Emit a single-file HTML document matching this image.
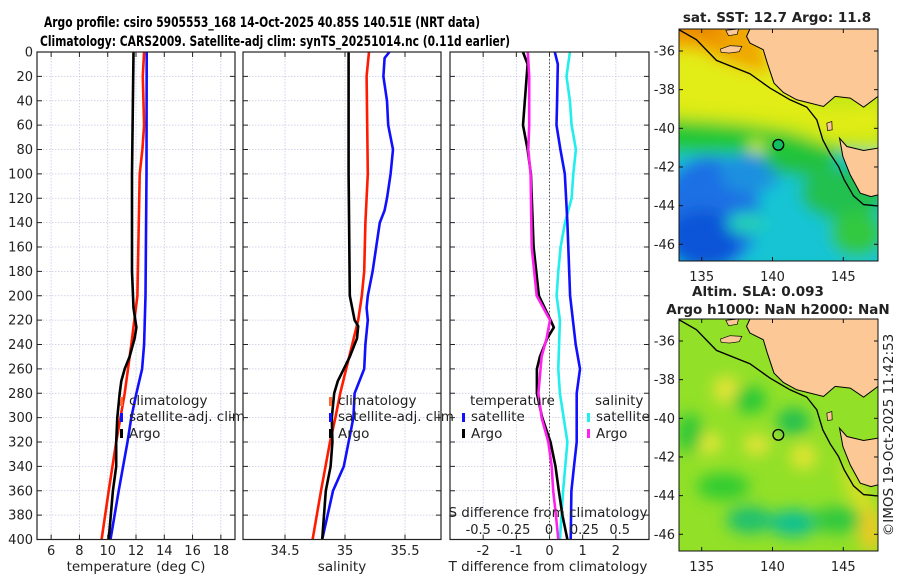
<!DOCTYPE html>
<html><head><meta charset="utf-8"><style>
body{margin:0;background:#fff;}
svg{display:block;font-family:"DejaVu Sans","Liberation Sans",sans-serif;}
</style></head><body>
<svg id="fig" width="900" height="580" viewBox="0 0 900 580" xmlns="http://www.w3.org/2000/svg">
<defs>
<filter id="blur1" x="-20%" y="-20%" width="140%" height="140%"><feGaussianBlur stdDeviation="22"/></filter>
<clipPath id="mapclip"><rect x="88" y="88" width="595" height="695"/></clipPath>
</defs>
<text x="44" y="27" font-size="14.5" font-weight="bold" textLength="436" lengthAdjust="spacingAndGlyphs">Argo profile: csiro 5905553_168 14-Oct-2025 40.85S 140.51E (NRT data)</text>
<text x="40" y="46" font-size="14.5" font-weight="bold" textLength="470" lengthAdjust="spacingAndGlyphs">Climatology: CARS2009. Satellite-adj clim: synTS_20251014.nc (0.11d earlier)</text>
<g id="panels"></g>
<g id="maps"></g>
</svg>
<script>
// ---- data ----
const depthTickLabels = [0,20,40,60,80,100,120,140,160,180,200,220,240,260,280,300,320,340,360,380,400];
const tempTicks = [6,8,10,12,14,16,18];
const salTicks = [34.5,35,35.5];
const tdiffTicks = [-2,-1,0,1,2];
const sdiffTicks = [-0.5,-0.25,0,0.25,0.5];
const sdiffTickLabels = ['-0.5','-0.25','0','0.25','0.5'];

const tClimDepth = [0,20,60,80,100,200,240,280,320,360,400];
const tClimVal   = [12.57,12.48,12.57,12.45,12.26,12.1,11.67,11.2,10.6,10.07,9.57];
const tSatDepth  = [0,100,200,240,260,280,300,320,360,400];
const tSatVal    = [12.76,12.74,12.67,12.57,12.43,12.03,11.67,11.4,10.78,10.2];
const tArgoDepth = [0,100,180,210,226,235,250,260,270,280,300,320,340,360,400];
const tArgoVal   = [11.82,11.72,11.72,11.82,12.03,11.9,11.55,11.2,10.96,10.85,10.68,10.6,10.6,10.37,10.07];

const sClimDepth = [0,20,100,140,180,200,220,240,260,280,300,320,360,400];
const sClimVal   = [35.2,35.18,35.19,35.17,35.16,35.14,35.11,35.06,35.01,34.96,34.92,34.875,34.8,34.73];
const sSatDepth  = [0,5,20,40,60,80,100,120,130,140,160,180,200,210,220,240,260,280,300,320,340,360,400];
const sSatVal    = [35.37,35.33,35.32,35.35,35.36,35.4,35.38,35.35,35.33,35.29,35.26,35.23,35.19,35.18,35.19,35.17,35.16,35.08,35.07,35.03,34.99,34.9,34.81];
const sArgoDepth = [0,100,200,220,225,235,250,260,270,280,300,320,340,360,400];
const sArgoVal   = [35.03,35.03,35.04,35.08,35.11,35.1,35.04,34.99,34.94,34.91,34.89,34.895,34.88,34.84,34.81];

const dtSatDepth = [0,10,40,60,80,100,140,200,240,260,280,320,340,360,400];
const dtSatVal   = [0.16,0.25,0.23,0.21,0.33,0.46,0.54,0.62,0.79,0.92,0.82,0.82,0.74,0.66,0.64];
const dtArgoDepth = [0,10,60,80,100,160,200,220,226,235,250,260,280,300,320,340,360,380,400];
const dtArgoVal   = [-0.8,-0.66,-0.8,-0.66,-0.56,-0.48,-0.32,0.03,0.13,-0.07,-0.29,-0.38,-0.38,-0.22,0.03,0.18,0.28,0.39,0.54];
const dsSatDepth = [0,20,40,60,80,100,120,140,160,180,200,220,260,280,320,360,400];
const dsSatVal   = [0.148,0.124,0.148,0.16,0.19,0.172,0.16,0.113,0.082,0.066,0.054,0.077,0.066,0.077,0.13,0.1,0.077];
const dsArgoDepth = [0,20,60,80,100,160,200,220,235,250,280,300,320,340,360,380,400];
const dsArgoVal   = [-0.15,-0.14,-0.14,-0.146,-0.13,-0.122,-0.087,0.007,-0.017,-0.052,-0.075,-0.052,-0.005,0.019,0.03,0.049,0.066];

// ---- helpers ----
const NS='http://www.w3.org/2000/svg';
function mk(tag,attrs,parent){const e=document.createElementNS(NS,tag);for(const k in attrs)e.setAttribute(k,attrs[k]);parent.appendChild(e);return e;}
const panels=document.getElementById('panels');
const Y0=52,Y1=539.5;
const yS=d=>Y0+(d/400)*(Y1-Y0);

function panel(name,x0,x1,dmin,dmax,showY){
  const g=mk('g',{},panels);
  
  
  const xs=v=>x0+(v-dmin)/(dmax-dmin)*(x1-x0);
  depthTickLabels.forEach(d=>{
    const y=yS(d);
    if(d>0&&d<400){const l=mk('line',{x1:x0,x2:x1,y1:y,y2:y,stroke:'#c4c8e4','stroke-width':0.8,'stroke-dasharray':'1.5,1.5'},g);
      }
    mk('line',{x1:x0,x2:x0+5,y1:y,y2:y,stroke:'#222','stroke-width':1},g);
    mk('line',{x1:x1-5,x2:x1,y1:y,y2:y,stroke:'#222','stroke-width':1},g);
    if(showY){const t=mk('text',{x:x0-4,y:y+4.5,'text-anchor':'end','font-size':13,fill:'#222'},g);t.textContent=d;
      }
  });
  return {g,xs};
}
function vgrid(p,ticks){ticks.forEach(v=>{const x=p.xs(v);
  const l=mk('line',{x1:x,x2:x,y1:Y0,y2:Y1,stroke:'#c4c8e4','stroke-width':0.8,'stroke-dasharray':'1.5,1.5'},p.g);
  
  mk('line',{x1:x,x2:x,y1:Y1,y2:Y1-5,stroke:'#222'},p.g);mk('line',{x1:x,x2:x,y1:Y0,y2:Y0+5,stroke:'#222'},p.g);});}
function xlabels(p,ticks,labels,y,name){ticks.forEach((v,i)=>{const t=mk('text',{x:p.xs(v),y:y,'text-anchor':'middle','font-size':13,fill:'#222'},p.g);t.textContent=labels?labels[i]:v;
  });}
function series(p,xs,depths,vals,color,name){
  const pts=depths.map((d,i)=>xs(vals[i]).toFixed(1)+','+yS(d).toFixed(1)).join(' ');
  const e=mk('polyline',{points:pts,fill:'none',stroke:color,'stroke-width':2.6,'stroke-linejoin':'round'},p.g);
  
}
function frame(p,x0,x1){const r=mk('rect',{x:x0,y:Y0,width:x1-x0,height:Y1-Y0,fill:'none',stroke:'#222','stroke-width':1.2},p.g);
  }
function text(g,x,y,s,str,name,anchor){const t=mk('text',{x:x,y:y,'font-size':s,fill:'#222','text-anchor':anchor||'start'},g);t.textContent=str;
  return t;}
function legMark(g,x,y,color,name){const r=mk('rect',{x:x,y:y,width:3,height:9,fill:color},g);}

// Panel 1 temperature
const p1=panel('temperature-panel',37,235,5,19,true);
vgrid(p1,tempTicks);
series(p1,p1.xs,tClimDepth,tClimVal,'#ff1a00','temperature-climatology-line');
series(p1,p1.xs,tSatDepth,tSatVal,'#1010ff','temperature-satellite-line');
series(p1,p1.xs,tArgoDepth,tArgoVal,'#000','temperature-argo-line');
frame(p1,37,235);
xlabels(p1,tempTicks,null,555,'temperature-tick-label');
text(p1.g,136,571,13.5,'temperature (deg C)','temperature-axis-title','middle');
legMark(p1.g,120,397,'#ff6a3a','legend-climatology-marker');text(p1.g,129,405,13.5,'climatology','legend-climatology');
legMark(p1.g,120,413,'#1010ff','legend-satellite-marker');text(p1.g,129,421,13.5,'satellite-adj. clim','legend-satellite');
legMark(p1.g,120,429,'#000','legend-argo-marker');text(p1.g,129,438,13.5,'Argo','legend-argo');

// Panel 2 salinity
const p2=panel('salinity-panel',243,441,34.15,35.8,false);
vgrid(p2,salTicks);
series(p2,p2.xs,sClimDepth,sClimVal,'#ff1a00','salinity-climatology-line');
series(p2,p2.xs,sSatDepth,sSatVal,'#1010ff','salinity-satellite-line');
series(p2,p2.xs,sArgoDepth,sArgoVal,'#000','salinity-argo-line');
frame(p2,243,441);
xlabels(p2,salTicks,null,555,'salinity-tick-label');
text(p2.g,342,571,13.5,'salinity','salinity-axis-title','middle');
legMark(p2.g,329,397,'#ff6a3a','legend-climatology-marker');text(p2.g,338,405,13.5,'climatology','legend-climatology');
legMark(p2.g,329,413,'#1010ff','legend-satellite-marker');text(p2.g,338,421,13.5,'satellite-adj. clim','legend-satellite');
legMark(p2.g,329,429,'#000','legend-argo-marker');text(p2.g,338,438,13.5,'Argo','legend-argo');

// Panel 3 differences
const p3=panel('difference-panel',450,649,-3,3,false);
vgrid(p3,tdiffTicks);
const sxs=v=>549+v*141.5;
{const z=mk('line',{x1:p3.xs(0),x2:p3.xs(0),y1:Y0,y2:Y1,stroke:'#554','stroke-width':1,'stroke-dasharray':'1.5,2'},p3.g);
 }
series(p3,sxs,dsSatDepth,dsSatVal,'#22eeee','salinity-diff-satellite-line');
series(p3,p3.xs,dtSatDepth,dtSatVal,'#1010ff','temperature-diff-satellite-line');
series(p3,p3.xs,dtArgoDepth,dtArgoVal,'#000','temperature-diff-argo-line');
series(p3,sxs,dsArgoDepth,dsArgoVal,'#ff22ee','salinity-diff-argo-line');
frame(p3,450,649);
xlabels(p3,tdiffTicks,null,555,'t-diff-tick-label');
text(p3.g,548,571,13.5,'T difference from climatology','t-diff-axis-title','middle');
text(p3.g,548,517,13.5,'S difference from climatology','s-diff-axis-title','middle');
sdiffTicks.forEach((v,i)=>{text(p3.g,sxs(v),534,13,sdiffTickLabels[i],'s-diff-tick-label','middle');});
text(p3.g,470,405,13.5,'temperature','legend-temperature-header');
text(p3.g,595,405,13.5,'salinity','legend-salinity-header');
legMark(p3.g,462,413,'#1010ff','legend-t-satellite-marker');text(p3.g,471,421,13.5,'satellite','legend-t-satellite');
legMark(p3.g,462,429,'#000','legend-t-argo-marker');text(p3.g,471,438,13.5,'Argo','legend-t-argo');
legMark(p3.g,587,413,'#22eeee','legend-s-satellite-marker');text(p3.g,596,421,13.5,'satellite','legend-s-satellite');
legMark(p3.g,587,429,'#ff22ee','legend-s-argo-marker');text(p3.g,596,438,13.5,'Argo','legend-s-argo');

// ---- maps ----
const lonTicks=[135,140,145];
const latTicks=[-36,-38,-40,-42,-44,-46];
const maps=document.getElementById('maps');
const land="300,88 290,110 300,130 340,150 352,190 372,250 400,278 440,300 520,320 555,290 600,295 640,322 683,290 683,88";
const tas="568,415 590,440 640,452 683,445 683,585 662,590 630,580 600,525 578,470";
const isl1="212,148 240,138 276,140 268,156 238,160 214,158";
const isl2="228,92 266,88 262,104 236,108";
const isl3="530,370 545,365 546,390 532,392";
const shelf="88,90 140,120 200,182 300,222 360,265 420,300 470,322 500,360 518,420 540,462 565,500 582,540 610,588 640,614 683,618";
function drawMap(name,x,y,blobs,base,circ){
  const g=mk('g',{},maps);
  
  
  const s=mk('svg',{x:x,y:y,width:199,height:232,viewBox:'88 88 595 695',preserveAspectRatio:'none'},g);
  const c=mk('g',{'clip-path':'url(#mapclip)'},s);
  mk('rect',{x:88,y:88,width:595,height:695,fill:base},c);
  const bg=mk('g',{filter:'url(#blur1)'},c);
  blobs.forEach(b=>mk(b[0],b[1],bg));
  mk('polygon',{points:land,fill:'#fbc896',stroke:'#000','stroke-width':3},c);
  mk('polygon',{points:tas,fill:'#fbc896',stroke:'#000','stroke-width':3},c);
  mk('polygon',{points:isl1,fill:'#fbc896',stroke:'#000','stroke-width':2},c);
  mk('polygon',{points:isl2,fill:'#fbc896',stroke:'#000','stroke-width':2},c);
  mk('polygon',{points:isl3,fill:'#fbc896',stroke:'#000','stroke-width':2},c);
  mk('polyline',{points:shelf,fill:'none',stroke:'#000','stroke-width':4},c);
  const ci=mk('ellipse',{cx:385,cy:435,rx:16,ry:16,fill:circ,stroke:'#000','stroke-width':4},c);
  
  const fr=mk('rect',{x:x,y:y,width:199,height:232,fill:'none',stroke:'#111','stroke-width':1},g);
  
  const lonS=v=>x+22.7+(v-135)*14.16, latS=v=>y+22+(-36-v)*19.33;
  lonTicks.forEach(v=>{mk('line',{x1:lonS(v),x2:lonS(v),y1:y+232,y2:y+228,stroke:'#111'},g);
    mk('line',{x1:lonS(v),x2:lonS(v),y1:y,y2:y+4,stroke:'#111'},g);
    text(g,lonS(v),y+252,13,String(v),'longitude-tick-label','middle');});
  latTicks.forEach(v=>{mk('line',{x1:x,x2:x+4,y1:latS(v),y2:latS(v),stroke:'#111'},g);
    mk('line',{x1:x+199,x2:x+195,y1:latS(v),y2:latS(v),stroke:'#111'},g);
    text(g,x-4,latS(v)+4.5,13,String(v),'latitude-tick-label','end');});
  return g;
}
drawMap('sst-map',679,29,[
  ['rect',{x:40,y:440,width:680,height:380,fill:'#16c4d4'}],
  ['ellipse',{cx:180,cy:640,rx:150,ry:170,fill:'#1a70e4'}],
  ['ellipse',{cx:160,cy:720,rx:110,ry:90,fill:'#0c54d8'}],
  ['ellipse',{cx:300,cy:520,rx:90,ry:60,fill:'#1a90e0'}],
  ['ellipse',{cx:290,cy:670,rx:60,ry:35,fill:'#22d0b8'}],
  ['ellipse',{cx:580,cy:580,rx:130,ry:80,fill:'#22c050'}],
  ['ellipse',{cx:620,cy:700,rx:80,ry:70,fill:'#30c840'}],
  ['ellipse',{cx:450,cy:470,rx:110,ry:60,fill:'#20c040'}],
  ['rect',{x:40,y:340,width:640,height:120,fill:'#24c834'}],
  ['polygon',{points:'40,40 720,40 720,470 540,440 420,400 300,380 200,370 40,360',fill:'#c6e818'}],
  ['polygon',{points:'40,40 400,40 480,320 560,330 700,320 700,400 540,410 460,370 300,350 40,330',fill:'#e2ec14'}],
  ['ellipse',{cx:320,cy:440,rx:25,ry:20,fill:'#d8ee20'}],
  ['polygon',{points:'40,40 320,40 360,220 300,210 220,185 140,150 40,150',fill:'#f0a800'}],
  ['polygon',{points:'40,40 200,40 230,130 120,115 40,105',fill:'#ec8a00'}]
],'#22c83a','#10c060');
drawMap('sla-map',679,319,[
  ['ellipse',{cx:230,cy:300,rx:40,ry:40,fill:'#e6e438'}],
  ['ellipse',{cx:170,cy:460,rx:45,ry:30,fill:'#ece838'}],
  ['ellipse',{cx:320,cy:465,rx:40,ry:30,fill:'#e8e438'}],
  ['ellipse',{cx:460,cy:500,rx:40,ry:40,fill:'#e0e430'}],
  ['ellipse',{cx:430,cy:395,rx:50,ry:40,fill:'#22c050'}],
  ['ellipse',{cx:300,cy:330,rx:50,ry:40,fill:'#28c838'}],
  ['ellipse',{cx:120,cy:430,rx:40,ry:60,fill:'#30c838'}],
  ['ellipse',{cx:300,cy:690,rx:70,ry:40,fill:'#1cc070'}],
  ['ellipse',{cx:430,cy:700,rx:70,ry:40,fill:'#10c090'}],
  ['ellipse',{cx:220,cy:590,rx:80,ry:40,fill:'#30cc30'}],
  ['ellipse',{cx:560,cy:690,rx:80,ry:40,fill:'#30c840'}],
  ['ellipse',{cx:660,cy:720,rx:30,ry:70,fill:'#f4c820'}],
  ['polygon',{points:'560,500 610,560 670,640 640,670 600,620',fill:'#e8e020'}]
],'#92e028','none');
text(maps,777,22,13.5,'sat. SST: 12.7 Argo: 11.8','sst-map-title','middle').setAttribute('font-weight','bold');
text(maps,758,296,13.5,'Altim. SLA: 0.093','sla-map-title-1','middle').setAttribute('font-weight','bold');
text(maps,778,314,13.5,'Argo h1000: NaN h2000: NaN','sla-map-title-2','middle').setAttribute('font-weight','bold');
const ts=text(maps,0,0,13.5,'\u00a9IMOS 19-Oct-2025 11:42:53','timestamp','middle');
ts.setAttribute('transform','translate(893,435) rotate(-90)');
</script>
</body></html>
